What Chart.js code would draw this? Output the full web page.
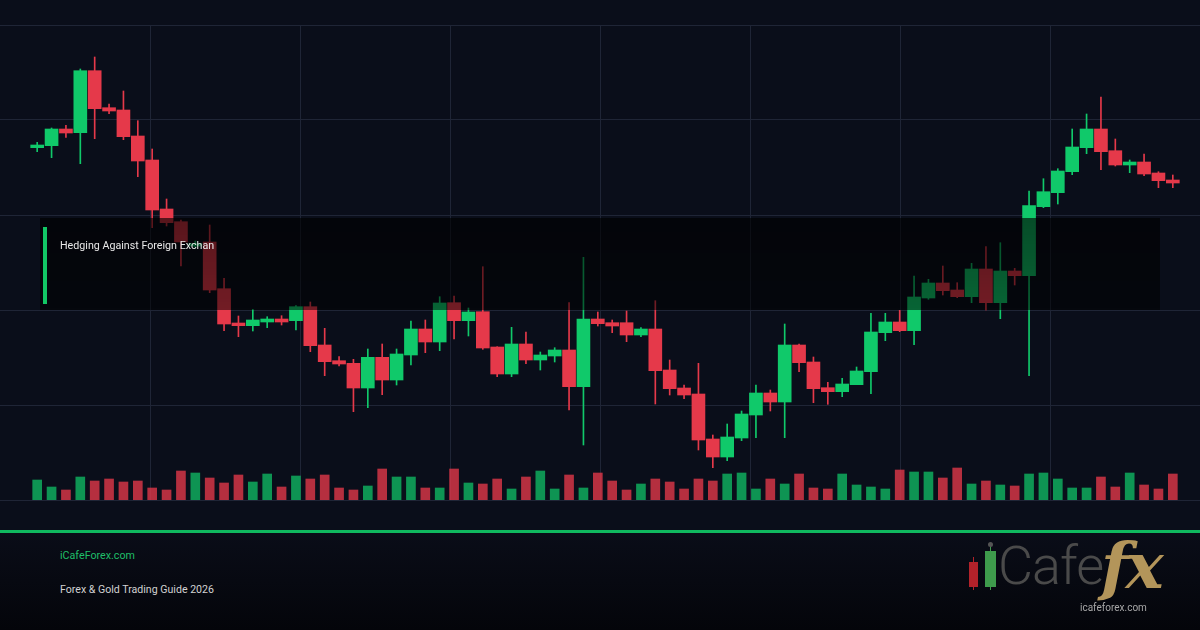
<!DOCTYPE html>
<html>
<head>
<meta charset="utf-8">
<title>Hedging Against Foreign Exchange</title>
<script src="https://cdn.jsdelivr.net/npm/chart.js@4.4.1/dist/chart.umd.min.js"></script>
<style>
  html, body { margin: 0; padding: 0; }
  body { width: 1200px; height: 630px; overflow: hidden; background: #0a0e1a; font-family: Roboto, "Noto Sans", sans-serif; }
  #wrap { position: relative; width: 1200px; height: 630px; background: #0a0e1a; }
  #chart { position: absolute; left: 0; top: 0; }
  #banner { position: absolute; left: 40px; top: 218px; width: 1120px; height: 92px;
    background: linear-gradient(180deg, rgba(0,0,0,0.62), rgba(0,0,0,0.5)); }
  #banner .bar { position: absolute; left: 3px; top: 9px; width: 4px; height: 77px; background: #12c765; }
  #banner .title { position: absolute; left: 20px; top: 21px; font-size: 10.7px; color: #e8e8e8; white-space: nowrap; }
  #rule { position: absolute; left: 0; top: 530px; width: 1200px; height: 3px; background: #10b95f; }
  #footer { position: absolute; left: 0; top: 533px; width: 1200px; height: 97px;
    background: linear-gradient(180deg, #0a0d18, #04050a); }
  #site { position: absolute; left: 60px; top: 549px; font-size: 10.7px; color: #1fbf68; }
  #guide { position: absolute; left: 60px; top: 583px; font-size: 10.6px; color: #d2d2d2; }
  #logo { position: absolute; left: 960px; top: 540px; width: 230px; height: 80px; }
  #logo .c { position: absolute; }
  #logo .wick { position: absolute; width: 1px; }
  #logo .cafe { position: absolute; left: 38px; top: -6px; font-size: 54px; font-weight: 300; color: #4a4a4a; letter-spacing: -1px; }
  #logo .fx { position: absolute; left: 141px; top: -12px; font-family: "DejaVu Serif", "Liberation Serif", serif; font-style: italic; font-weight: bold; font-size: 64px; color: #b3955a; letter-spacing: -3px; }
  #logo .url { position: absolute; left: 120px; top: 62px; font-size: 10px; color: #a8a8a8; }
</style>
</head>
<body>
<div id="wrap">
  <canvas id="chart" width="1200" height="630"></canvas>
  <div id="banner"><div class="bar"></div><div class="title">Hedging Against Foreign Exchan</div></div>
  <div id="rule"></div>
  <div id="footer"></div>
  <div id="site">iCafeForex.com</div>
  <div id="guide">Forex &amp; Gold Trading Guide 2026</div>
  <div id="logo">
    <div class="wick" style="left:13px;top:17px;height:33px;background:#b3222a"></div>
    <div class="c" style="left:9px;top:22px;width:9px;height:25px;background:#b3222a"></div>
    <div class="wick" style="left:30px;top:4px;height:46px;background:#3e9b4c"></div>
    <div class="c" style="left:28px;top:2px;width:5px;height:5px;border-radius:3px;background:#555"></div>
    <div class="c" style="left:25px;top:11px;width:11px;height:36px;background:#3e9b4c"></div>
    <div class="cafe">Cafe</div>
    <div class="fx">fx</div>
    <div class="url">icafeforex.com</div>
  </div>
</div>
<script>
// candle data, price units, one entry per session
const opens = [352.3, 354.3, 371, 367.3, 429.3, 392.3, 390, 364, 340, 291,
  278.3, 254, 258, 211.3, 177, 174.3, 178, 181, 179.3, 193.3,
  155, 139.3, 136.7, 112, 142.7, 120, 145, 171, 158, 197.3,
  179.3, 188.3, 153, 126, 156, 140, 144, 150, 113.3, 181,
  177.3, 177.3, 165, 171, 130, 112, 106, 61, 43, 62,
  85, 107, 98, 155, 138, 112.3, 108.3, 115.3, 128.3, 167.3,
  178, 169.3, 202, 217, 210, 203.3, 231, 197.3, 229, 224.3,
  293.3, 307.3, 328.3, 352.3, 371, 349.3, 335, 338, 327, 320];
const closes = [355, 371, 367, 429.3, 391.3, 389, 363.3, 339, 290, 277.3,
  258, 256.5, 210, 176, 174.3, 180, 181, 178, 193.3, 154.3,
  138.3, 136, 112, 142.7, 120, 146, 171, 158, 197, 179.3,
  188, 152, 126, 156, 140, 145, 150, 113.3, 181, 176.3,
  174, 165, 171, 129.3, 111.3, 105, 60, 43, 63, 86,
  107, 98, 155, 137.3, 111.3, 108.3, 116, 129, 168, 178,
  169.3, 203, 217, 209.3, 203.3, 231, 197.3, 229, 224.3, 294.3,
  308.3, 329, 353, 371, 348.3, 335, 338, 326, 319.3, 317];
const highs = [357.7, 372, 374.7, 431, 443, 396, 409, 379.3, 351, 301,
  280, 259, 275, 221.7, 184, 190.7, 183.3, 184.3, 194.3, 198,
  171.7, 143.3, 140.7, 151, 156, 151, 179, 180, 203.3, 204,
  192, 233.3, 153.3, 172.7, 168, 148, 152.3, 197.3, 242.7, 188,
  180, 189, 172.3, 199.3, 140, 115, 136.7, 65, 76, 89,
  115, 110, 176, 156, 143, 117.7, 121.7, 133, 186.7, 186.7,
  189.7, 224, 220.7, 234, 217.3, 236.7, 253.3, 257.3, 231.7, 309,
  321.3, 331.3, 371, 386, 403, 361, 340, 346, 328.3, 325];
const lows = [348.3, 342.3, 362.7, 336.3, 361.3, 386.3, 360.3, 323.3, 272.3, 274,
  234, 252, 207.3, 169.3, 163.3, 169, 172.3, 175, 170, 148.3,
  124.3, 134, 88.3, 92.3, 105.3, 115, 135, 147.3, 149.3, 161,
  164, 150.7, 123.3, 123.3, 136.3, 130, 138, 90, 55, 174,
  167.3, 158.3, 163.3, 96, 105, 101.3, 50, 32.3, 39.3, 59.3,
  62.3, 89, 62.3, 128.3, 97.3, 95.7, 103.3, 115.3, 106.3, 159.3,
  168.3, 155.3, 200.7, 205, 202.3, 197.3, 190, 181.3, 215, 124.3,
  292.3, 296, 325.3, 346.3, 330.3, 334, 327.3, 324.3, 312.3, 312.3];
const volumes = [20, 13, 10, 23, 19, 21, 18, 19, 12, 10,
  29, 27, 22, 17, 25, 18, 26, 13, 24, 21,
  25, 12, 10, 14, 31, 23, 23, 12, 12, 31,
  17, 16, 21, 11, 23, 29, 11, 25, 12, 27,
  19, 10, 16, 21, 18, 11, 21, 19, 26, 27,
  11, 21, 16, 26, 12, 11, 26, 15, 13, 11,
  30, 28, 28, 22, 32, 16, 19, 15, 14, 26,
  27, 21, 12, 12, 23, 13, 27, 15, 11, 26];
const priceTicks = [0, 95, 190, 285, 380, 475];

const GREEN = "#10c96a";
const RED = "#e5394a";
const GREEN_VOL = "rgba(16,201,106,0.72)";
const RED_VOL = "rgba(229,57,74,0.78)";
const GRID = "#1f2536";

var up = opens.map((o, i) => closes[i] >= o);
var bodies = [];
var wicks = [];
var vols = [];
opens.forEach((o, i) => {
  bodies.push({ x: i, y: [o, closes[i]] });
  wicks.push({ x: i, y: [lows[i], highs[i]] });
  vols.push({ x: i, y: volumes[i] });
});

new Chart(document.getElementById("chart"), {
  type: "bar",
  data: {
    datasets: [
      {
        data: bodies,
        backgroundColor: up.map((u) => (u ? GREEN : RED)),
        barThickness: 13,
        grouped: false,
        order: 0,
      },
      {
        data: wicks,
        backgroundColor: up.map((u) => (u ? GREEN : RED)),
        barThickness: 1,
        grouped: false,
        order: 1,
      },
      {
        data: vols,
        yAxisID: "yv",
        backgroundColor: up.map((u) => (u ? GREEN_VOL : RED_VOL)),
        barThickness: 9,
        grouped: false,
        order: 2,
      },
    ],
  },
  options: {
    responsive: false,
    animation: false,
    devicePixelRatio: 1,
    layout: { padding: { top: 25, bottom: 130, left: 0, right: 0 } },
    plugins: { legend: { display: false }, tooltip: { enabled: false } },
    scales: {
      x: { type: "linear", min: -2.587, max: 80.891, offset: false, display: false },
      xg: {
        type: "linear",
        position: "bottom",
        min: 0,
        max: 1200,
        offset: false,
        ticks: { display: false, stepSize: 150 },
        border: { display: false },
        grid: {
          offset: false,
          drawTicks: false,
          color: (c) => (c.tick && (c.tick.value === 0 || c.tick.value === 1200) ? "transparent" : GRID),
        },
      },
      y: {
        min: priceTicks[0],
        max: priceTicks[priceTicks.length - 1],
        afterBuildTicks: (axis) => { axis.ticks = priceTicks.map((v) => ({ value: v })); },
        ticks: { display: false },
        border: { display: false },
        grid: { drawTicks: false, color: GRID },
      },
      yv: { min: 0, max: 475, display: false },
    },
  },
});
</script>
</body>
</html>
